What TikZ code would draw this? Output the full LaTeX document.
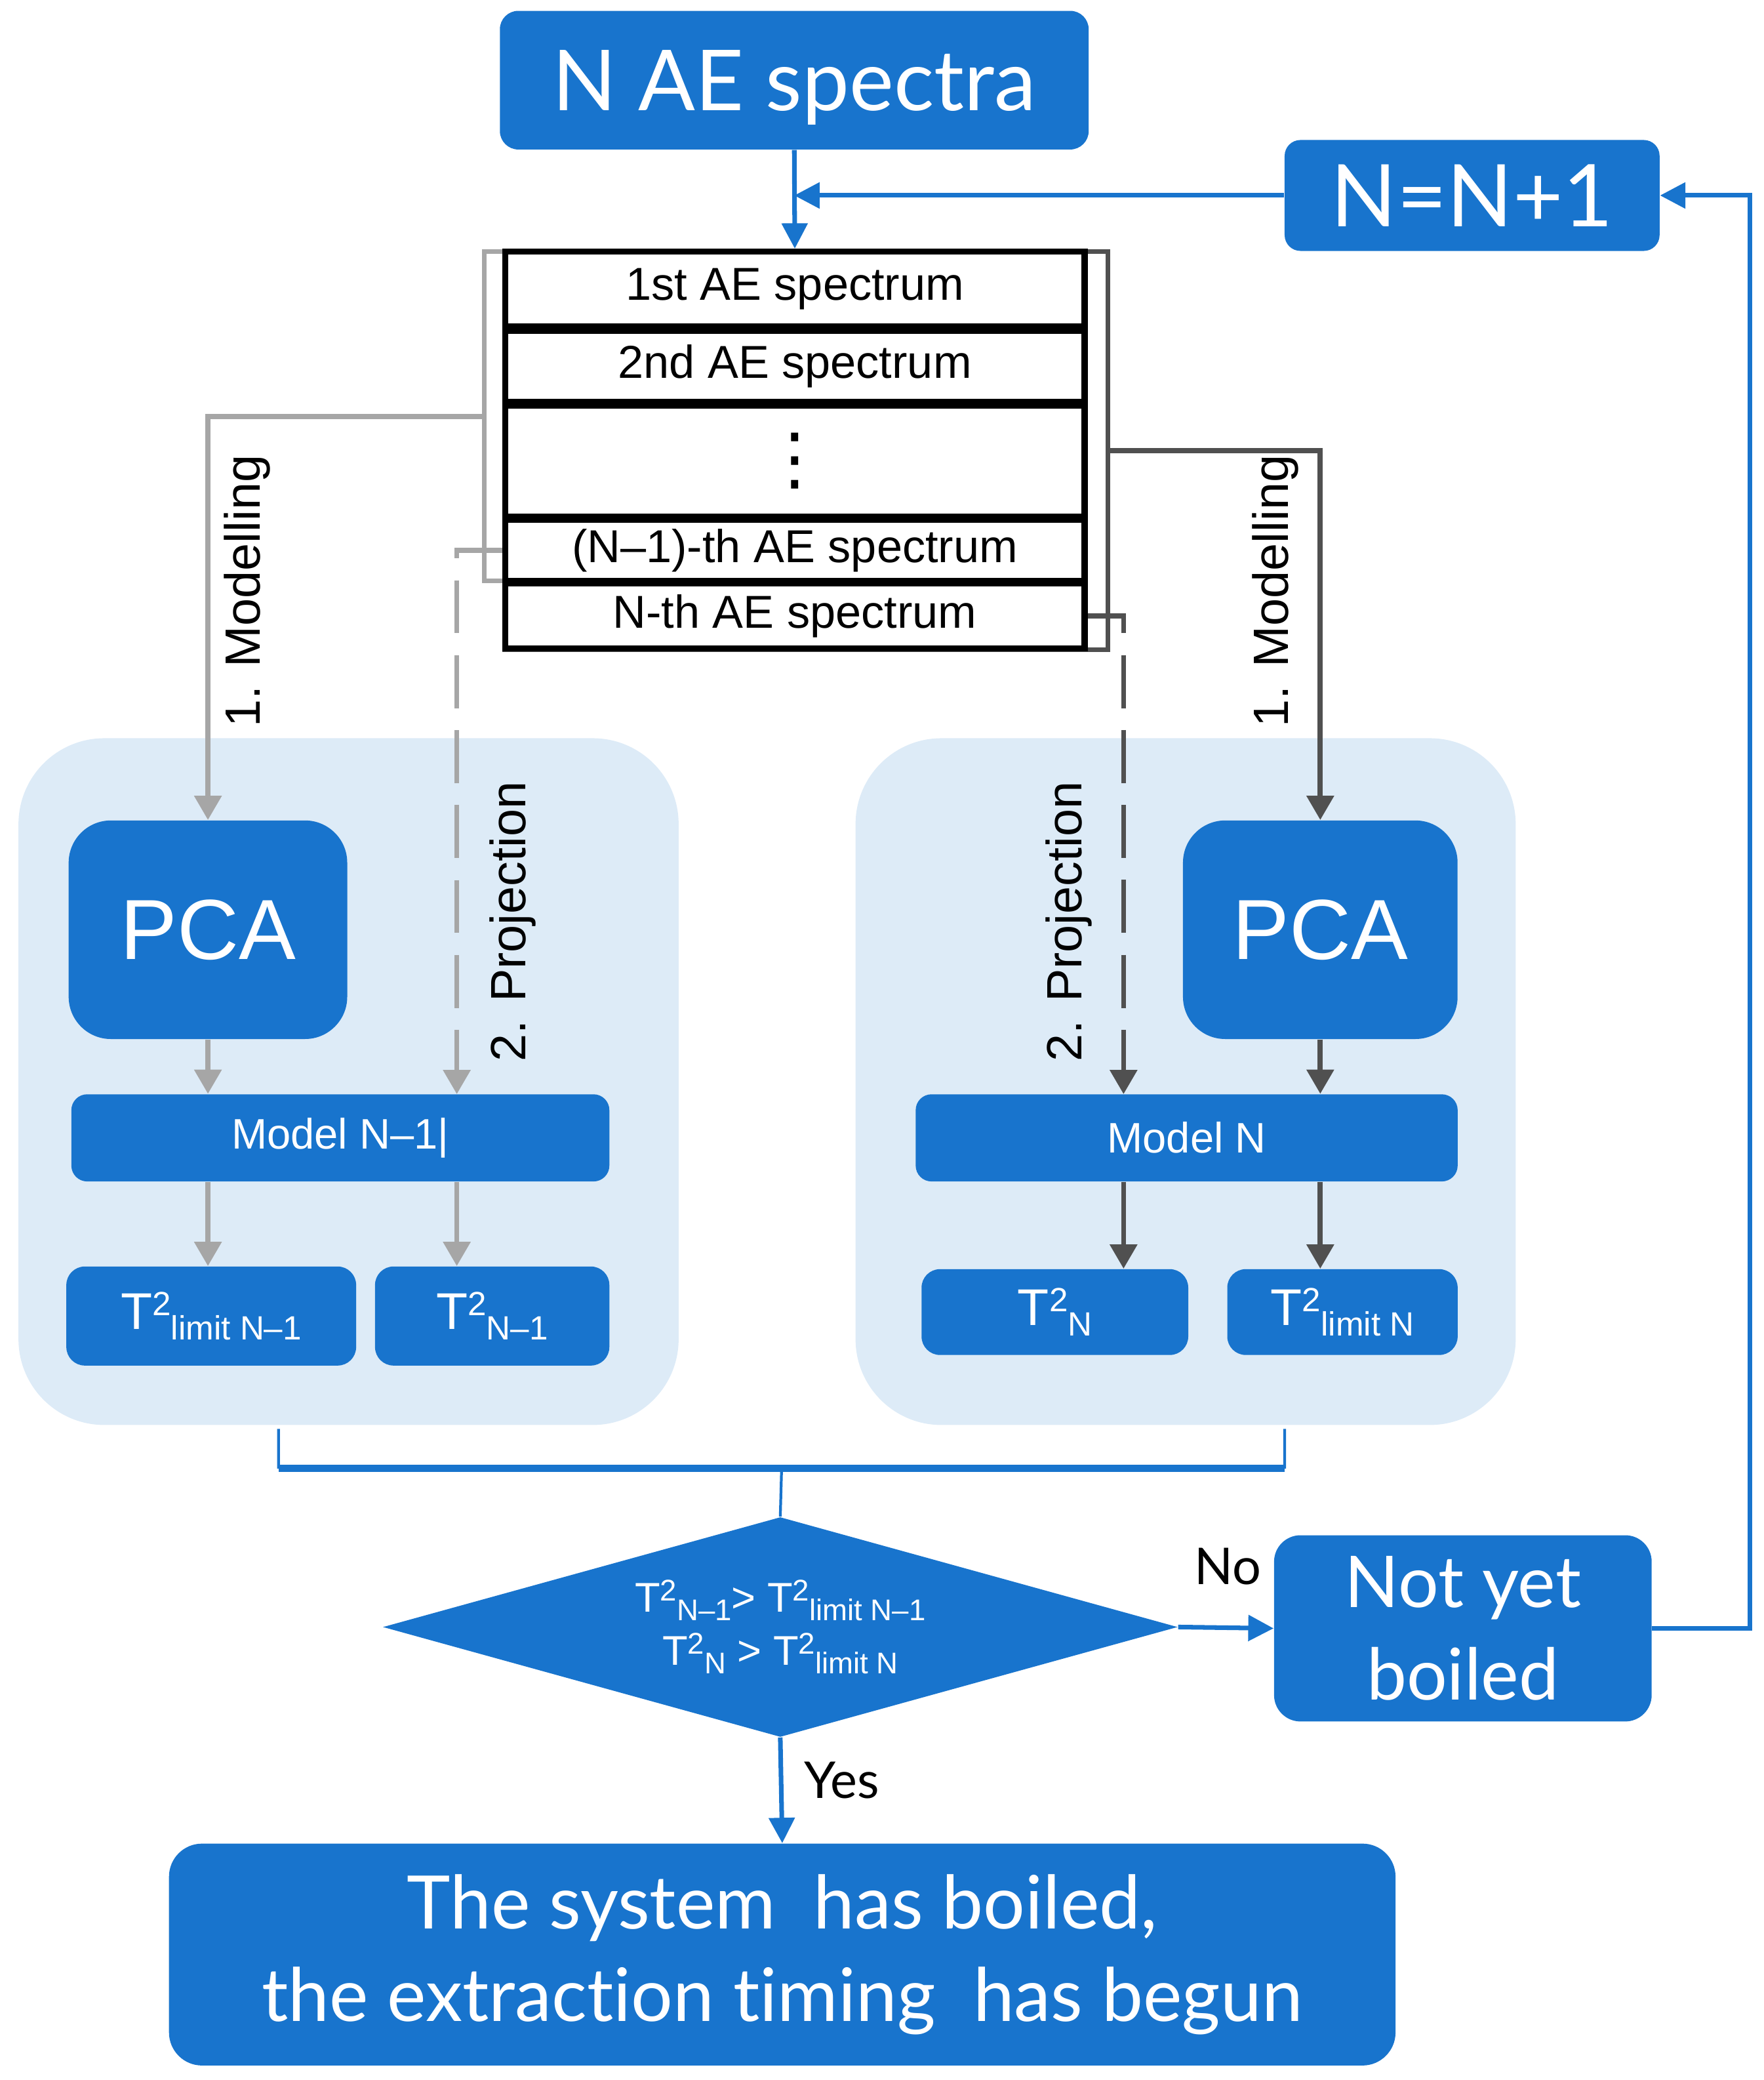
\documentclass[tikz,border=0pt]{standalone}
\usepackage{graphicx}
\usepackage{fontspec}
\setmainfont{Liberation Sans}
\newfontfamily\latofont[Ligatures=NoCommon]{Lato}
\newfontfamily\dotsfont{DejaVu Sans}
\usepackage{tikz}
\usetikzlibrary{arrows.meta,positioning,calc,shapes.geometric}

\definecolor{aeblue}{RGB}{24,116,205}
\definecolor{panelblue}{RGB}{221,235,247}
\definecolor{oldgray}{RGB}{166,166,166}
\definecolor{newgray}{RGB}{80,80,80}
\newcommand{\dU}{0.02013cm}
\newcommand{\tsq}[2][.65]{T\raisebox{.27em}{\scalebox{#1}{2}}\raisebox{-.2em}{\scalebox{#1}{#2}}}

\begin{document}
\begin{tikzpicture}[x=\dU, y=-\dU,
		bluebox/.style={fill=aeblue, text=white, inner sep=0pt, align=center, rounded corners=12*\dU},
		specrow/.style={draw=black, fill=white, line width=2.6pt, minimum width=439*\dU, inner sep=0pt, font=\fontsize{20}{24}\selectfont},
		panel/.style={fill=panelblue, rounded corners=65*\dU, inner sep=0pt},
		oldlink/.style={draw=oldgray, line width=2.2pt, -{Triangle[length=10.5pt,width=11.5pt]}},
		newlink/.style={draw=newgray, line width=2.2pt, -{Triangle[length=10.5pt,width=11.5pt]}},
		projdash/.style={dash pattern=on 23pt off 9.5pt},
		bluelink/.style={draw=aeblue, line width=2pt, -{Triangle[length=11pt,width=11pt]}},
		steplabel/.style={rotate=90, font=\fontsize{21.5}{24}\selectfont}]
	\useasboundingbox (0,0) rectangle (1336,1575);
	\path 	(601.6,60.7) node (spectra) [bluebox, minimum width=446*\dU, minimum height=105*\dU, rounded corners=14*\dU, text depth=0pt, font=\latofont\fontsize{36.5}{40}\selectfont] {N AE spectra}
	        (1115,148) node (nplus) [bluebox, minimum width=284*\dU, minimum height=84*\dU, font=\latofont\fontsize{37.5}{40}\selectfont] {N=N+1};
	% spectra stack
	\path 	(594.5,315.25) node (oldset) [draw=oldgray, line width=2pt, minimum width=455*\dU, minimum height=249.5*\dU, inner sep=0pt] {}
	        (610.5,341.25) node (newset) [draw=newgray, line width=2pt, minimum width=457*\dU, minimum height=301.5*\dU, inner sep=0pt] {};
	\path 	(602,218.8) node (r1) [specrow, minimum height=56.5*\dU] {1st AE spectrum}
	        (602,277.5) node (r2) [specrow, minimum height=54*\dU] {2nd AE spectrum}
	        (602,349) node (r3) [specrow, minimum height=84*\dU, font=\dotsfont\fontsize{30}{32}\selectfont] {⋮}
	        (602,416.8) node (r4) [specrow, minimum height=46.5*\dU] {(N–1)-th AE spectrum}
	        (602,466.5) node (r5) [specrow, minimum height=49*\dU] {N-th AE spectrum};
	\path 	(264,819) node (panelL) [panel, minimum width=500*\dU, minimum height=520*\dU] {}
	        (898,819) node (panelR) [panel, minimum width=500*\dU, minimum height=520*\dU] {};
	\path 	(157.5,704) node (pcaL) [bluebox, minimum width=211*\dU, minimum height=165.5*\dU, rounded corners=32*\dU, font=\fontsize{37}{40}\selectfont] {PCA}
	        (257.8,861.6) node (modelL) [bluebox, minimum width=407.5*\dU, minimum height=66*\dU, font=\fontsize{18.5}{20}\selectfont] {Model N–1|}
	        (160,996.5) node (tlimL) [bluebox, minimum width=219.5*\dU, minimum height=75*\dU, rounded corners=14*\dU, font=\fontsize{22.4}{24}\selectfont] {\tsq{limit N–1}}
	        (372.8,996.5) node (tL) [bluebox, minimum width=177.5*\dU, minimum height=75*\dU, rounded corners=14*\dU, font=\fontsize{22.4}{24}\selectfont] {\tsq{N–1}}
	        (1000,704) node (pcaR) [bluebox, minimum width=208*\dU, minimum height=165.5*\dU, rounded corners=32*\dU, font=\fontsize{37}{40}\selectfont] {PCA}
	        (898.8,861.6) node (modelR) [bluebox, minimum width=410.5*\dU, minimum height=66*\dU, font=\fontsize{18.5}{20}\selectfont] {Model N}
	        (799,993.5) node (tN) [bluebox, minimum width=202*\dU, minimum height=65*\dU, rounded corners=14*\dU, font=\fontsize{22.4}{24}\selectfont] {\tsq{N}}
	        (1016.8,993.5) node (tlimN) [bluebox, minimum width=174.5*\dU, minimum height=65*\dU, rounded corners=14*\dU, font=\fontsize{22.4}{24}\selectfont] {\tsq{limit N}};
	\path 	(187,447.5) node (modlabL) [steplabel] {1. Modelling}
	        (966,447.5) node (modlabR) [steplabel] {1. Modelling}
	        (388.5,698) node (projlabL) [steplabel] {2. Projection}
	        (809.5,698) node (projlabR) [steplabel] {2. Projection};
	\coordinate (projL) at (346,828.5);
	\coordinate (projR) at (851,828.5);
	% decision
	\path 	(591,1232) node (cond) [diamond, fill=aeblue, text=white, inner sep=0pt, shape aspect=3.6, minimum width=602*\dU, minimum height=166.5*\dU, align=center, font=\fontsize{18}{23}\selectfont] {\tsq[.72]{N–1}> \tsq[.72]{limit N–1}\\\tsq[.72]{N} > \tsq[.72]{limit N}}
	        (1108,1233) node (notyet) [bluebox, minimum width=286*\dU, minimum height=141*\dU, rounded corners=20*\dU, font=\latofont\fontsize{31}{40}\selectfont] {Not yet\\boiled}
	        (592.5,1480) node (final) [bluebox, minimum width=929*\dU, minimum height=168*\dU, rounded corners=25*\dU, font=\latofont\fontsize{32}{40}\selectfont] {The system\ \ has boiled,\\the extraction timing\ \ has begun}
	        (930,1186) node (nolab) [font=\latofont\fontsize{22}{24}\selectfont] {No}
	        (637.5,1348) node (yeslab) [font=\latofont\fontsize{22}{24}\selectfont] {Yes};
	\coordinate (bl) at (211,1082);
	\coordinate (br) at (973,1082);
	\coordinate (bmid) at (592,1112);
	\draw [aeblue, line width=1.2pt] (bl) -- (bl |- bmid) (br) -- (br |- bmid) (bmid) -- (cond.north);
	\draw [aeblue, line width=3.2pt] (bl |- bmid) -- (br |- bmid);
	\draw [bluelink] (spectra.south) -- (r1.north);
	\draw [bluelink] (nplus.west) -- (nplus.west -| spectra.south);
	\draw [bluelink] (notyet.east) -- ++(74,0) |- (nplus.east);
	\draw [bluelink] (cond.east) -- (notyet.west);
	\draw [bluelink] (cond.south) -- (final.north);
	\draw [oldlink] (oldset.west) -| (pcaL.north);
	\draw [oldlink, projdash] (r4.west) -| (projL);
	\draw [oldlink] (pcaL.south) -- (pcaL.south |- modelL.north);
	\draw [oldlink] (modelL.south -| pcaL.south) -- (tlimL.north -| pcaL.south);
	\draw [oldlink] (modelL.south -| projL) -- (tL.north -| projL);
	\draw [newlink] (newset.east) -| (pcaR.north);
	\draw [newlink, projdash] (r5.east) -| (projR);
	\draw [newlink] (pcaR.south) -- (pcaR.south |- modelR.north);
	\draw [newlink] (modelR.south -| projR) -- (tN.north -| projR);
	\draw [newlink] (modelR.south -| pcaR.south) -- (tlimN.north -| pcaR.south);
\end{tikzpicture}
\end{document}
